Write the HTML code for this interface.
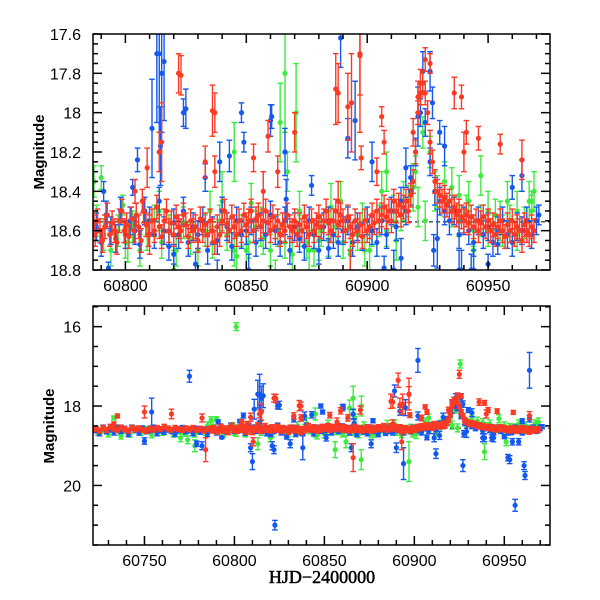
<!DOCTYPE html>
<html><head><meta charset="utf-8"><style>
html,body{margin:0;padding:0;background:#fff;width:600px;height:600px;overflow:hidden;}
svg{display:block;}
text{font-family:"Liberation Sans",sans-serif;}
</style></head><body>
<svg id="chart" width="600" height="600" viewBox="0 0 600 600">
<defs>
<clipPath id="clipTop"><rect x="93" y="34" width="457" height="236"/></clipPath>
<clipPath id="clipBot"><rect x="93" y="306" width="457" height="239"/></clipPath>
</defs>
<g id="topPlot" clip-path="url(#clipTop)"></g>
<g id="botPlot" clip-path="url(#clipBot)"></g>
<g id="axes"></g>
<text x="0" y="0" transform="translate(44,152) rotate(-90)" text-anchor="middle" font-size="15" font-weight="bold">Magnitude</text>
<text x="0" y="0" transform="translate(54,426) rotate(-90)" text-anchor="middle" font-size="15" font-weight="bold">Magnitude</text>
<text x="322" y="583" text-anchor="middle" font-size="18" stroke="#000" stroke-width="0.5" style="font-family:'Liberation Serif',serif">HJD−2400000</text>
</svg>
<script>
// ---- data: [day, magnitude] pairs ----
const redBase = [[60723,18.58],[60725,18.62],[60727,18.55],[60729,18.6],[60731,18.52],[60733,18.57],[60735,18.6],[60737,18.54],[60739,18.58],[60741,18.62],[60743,18.55],[60745,18.59],[60747,18.56],[60749,18.6],[60751,18.63],[60753,18.57],[60755,18.6],[60757,18.55],[60759,18.58],[60761,18.52],[60763,18.57],[60765,18.6],[60767,18.55],[60769,18.58],[60771,18.6],[60773,18.56],[60775,18.59],[60777,18.55],[60779,18.6],[60781,18.57],[60783,18.62],[60785,18.58],
[60786.5,18.57],[60787.5,18.62],[60788.5,18.55],[60789.5,18.6],[60790.5,18.65],[60791.5,18.58],[60792.5,18.52],[60793.5,18.62],[60794.5,18.56],[60795.5,18.6],[60796.5,18.66],[60797.5,18.55],[60798.5,18.5],[60799.5,18.6],[60800.5,18.57],[60801.5,18.63],[60802.5,18.54],[60803.5,18.6],[60804.5,18.52],[60805.5,18.58],[60806.5,18.65],[60807.5,18.5],[60808.5,18.57],[60809.5,18.62],[60811,18.55],[60812,18.6],[60813,18.48],[60814,18.58],[60815,18.63],[60816,18.55],[60817,18.5],[60818,18.6],[60819,18.56],[60820,18.62],[60821,18.53],[60822,18.58],[60823,18.6],[60824,18.52],[60825,18.57],[60826,18.63],[60827,18.55],[60828,18.6],[60829,18.58],[60830,18.65],[60831,18.54],[60832,18.6],[60833,18.57],[60834,18.62],[60835,18.55],[60836,18.6],[60837,18.66],[60838,18.58],[60839,18.62],[60840,18.55],[60841,18.5],[60842,18.57],[60843,18.6],[60844,18.53],[60845,18.58],[60846,18.62],[60847,18.55],[60848,18.6],[60849,18.52],[60850,18.57],[60851,18.55],[60852,18.5],[60853,18.6],[60854,18.54],[60855,18.52],[60856,18.58],[60857,18.55],[60858,18.5],[60859,18.56],[60860,18.6],[60861,18.53],[60862,18.58],[60863,18.55],[60864,18.62],[60865,18.57],[60866,18.6],[60867,18.52],[60868,18.58],[60869,18.6],[60870,18.55],[60871,18.62],[60872,18.57],[60873,18.6],[60874,18.53],[60875,18.58],[60876,18.62],[60877,18.55],[60878,18.6],[60879,18.57],[60880,18.53],[60881,18.58],[60882,18.55],[60883,18.5],[60884,18.56],[60885,18.6],[60886,18.55],[60887,18.5],[60888,18.57],[60889,18.52],[60890,18.55],[60891,18.6],[60892,18.53],[60893,18.58],[60894,18.62],[60895,18.55],[60896,18.6],[60897,18.57],[60898,18.63],[60899,18.55],[60900,18.6],[60901,18.58],[60902,18.52],[60903,18.56],[60904,18.5],[60905,18.55],[60906,18.52],[60907,18.48],[60908,18.53],[60909,18.5],[60910,18.55],[60911,18.45],[60912,18.5],[60913,18.47],[60914,18.52],[60915,18.48],[60916,18.45],[60917,18.5],[60918,18.42],[60919,18.35],[60920,18.2],[60921,18.0],[60922,17.9],[60923,17.85],[60924,17.9],[60925,18.0],[60926,18.15],[60927,18.25],[60928,18.35],[60929,18.4],[60930,18.42],[60931,18.45],[60932,18.43],[60933,18.47],[60934,18.45],[60935,18.5],[60936,18.48],[60937,18.52],[60938,18.5],[60939,18.53],[60940,18.55],[60941,18.52],[60942,18.56],[60943,18.53],[60944,18.58],[60945,18.55],[60946,18.6],[60947,18.56],[60948,18.53],[60949,18.58],[60950,18.55],[60951,18.6],[60952,18.57],[60953,18.62],[60954,18.58],[60955,18.55],[60956,18.6],[60957,18.63],[60958,18.57],[60959,18.6],[60960,18.55],[60961,18.62],[60962,18.58],[60963,18.6],[60964,18.65],[60965,18.57],[60966,18.6],[60967,18.62],[60968,18.58],[60969,18.6]];
const redErrBase = 0.06;
// [day, mag, err]
const redExtra = [[60787,18.56,0.04],[60804,18.4,0.06],[60807,18.45,0.06],[60809,18.28,0.1],[60810,18.62,0.1],[60815,18.15,0.2],[60823,17.81,0.1],[60833,18.25,0.08],[60836,17.99,0.13],[60837,18.3,0.08],[60853,18.23,0.07],[60859,18.12,0.08],[60863,18.3,0.08],[60870,18.1,0.1],[60887,17.88,0.18],[60888,18.45,0.1],[60892,17.97,0.17],[60897,17.71,0.2],[60897.5,18.23,0.06],[60904,18.3,0.07],[60906,18.02,0.05],[60907,18.15,0.06],[60919,18.1,0.07],[60921,17.92,0.08],[60922,17.85,0.07],[60924,17.73,0.06],[60926,17.75,0.05],[60939,17.92,0.06],[60941,18.1,0.06],[60946,18.13,0.06],[60955,18.16,0.05],[60964,18.24,0.1],
[60733,18.45,0.05],[60735,18.25,0.05],[60750,18.15,0.15],[60765,18.2,0.12],[60782,18.3,0.1],[60784,19.1,0.3],[60810.4,18.9,0.1],[60814,18.2,0.1],[60822,17.8,0.1],[60837,18.0,0.1],[60857,18.4,0.1],[60866,19.3,0.35],[60888,17.9,0.15],[60891,17.35,0.18],[60893,18.9,0.2],[60893.5,17.95,0.25],[60897,17.7,0.4],[60925,17.2,0.1],[60936,17.9,0.08],[60940,18.2,0.1]];
const blueBase = [[60723,18.6],[60725,18.68],[60727,18.55],[60729,18.63],[60731,18.58],[60733,18.66],[60735,18.55],[60737,18.62],[60739,18.58],[60741,18.7],[60743,18.55],[60745,18.6],[60747,18.66],[60749,18.57],[60751,18.63],[60753,18.6],[60755,18.55],[60757,18.68],[60759,18.6],[60761,18.64],[60763,18.58],[60765,18.62],[60767,18.7],[60769,18.6],[60771,18.56],[60773,18.63],[60775,18.6],[60777,18.68],[60779,18.58],[60781,18.64],[60783,18.6],[60785,18.7],
[60788,18.58],[60790,18.66],[60792,18.52],[60794,18.6],[60796,18.64],[60798,18.5],[60800,18.62],[60802,18.55],[60804,18.6],[60806,18.67],[60808,18.5],[60810,18.55],[60812,18.62],[60814,18.45],[60816,18.6],[60818,18.68],[60820,18.56],[60822,18.62],[60824,18.5],[60826,18.66],[60828,18.58],[60830,18.62],[60832,18.55],[60834,18.7],[60836,18.6],[60838,18.65],[60840,18.5],[60842,18.58],[60844,18.68],[60846,18.55],[60848,18.62],[60850,18.6],[60852,18.55],[60854,18.66],[60856,18.58],[60858,18.62],[60860,18.52],[60862,18.6],[60864,18.66],[60866,18.55],[60868,18.7],[60870,18.58],[60872,18.64],[60874,18.68],[60876,18.55],[60878,18.62],[60880,18.7],[60882,18.58],[60884,18.55],[60886,18.62],[60888,18.66],[60890,18.6],[60892,18.55],[60894,18.66],[60896,18.58],[60898,18.63],[60900,18.55],[60902,18.6],[60904,18.66],[60906,18.55],[60908,18.62],[60910,18.5],[60912,18.58],[60914,18.45],[60916,18.5],[60918,18.4],[60920,18.2],[60922,18.0],[60924,18.05],[60926,18.25],[60928,18.4],[60930,18.45],[60932,18.5],[60934,18.55],[60936,18.5],[60938,18.62],[60940,18.55],[60942,18.6],[60944,18.66],[60946,18.55],[60948,18.62],[60950,18.58],[60952,18.66],[60954,18.6],[60956,18.55],[60958,18.62],[60960,18.66],[60962,18.58],[60964,18.6],[60966,18.55],[60968,18.62],[60970,18.55]];
const blueErrBase = 0.07;
const blueExtra = [[60793,18.79,0.03],[60791,18.4,0.05],[60805,18.24,0.06],[60803,18.38,0.04],[60811,18.08,0.25],[60814,17.7,0.5],[60814.5,18.17,0.2],[60816,17.74,0.3],[60825,17.98,0.1],[60820,18.72,0.05],[60829,18.77,0.06],[60833,18.33,0.07],[60839,18.25,0.1],[60843,18.22,0.08],[60849,18.15,0.05],[60851,18.8,0.08],[60860,18.04,0.08],[60860.5,18.02,0.06],[60866,18.2,0.12],[60866.5,18.44,0.1],[60877,18.37,0.05],[60884,18.69,0.05],[60889,17.62,0.15],[60892,18.13,0.1],[60895,18.04,0.2],[60902,18.25,0.1],[60907,18.79,0.06],[60914,18.74,0.1],[60916,18.28,0.1],[60921,18.02,0.15],[60923,17.79,0.1],[60926,17.79,0.1],[60927,17.95,0.08],[60932,18.17,0.1],[60929,18.64,0.15],[60939,18.8,0.1],[60944,18.8,0.1],[60950,18.77,0.05],[60954,18.67,0.05],[60960,18.38,0.06],[60964,18.32,0.08],[60971,18.52,0.05],[60918,18.33,0.06],
[60775,17.25,0.15],[60754,18.15,0.35],[60750,18.88,0.08],[60779,18.95,0.07],[60782,19.0,0.1],[60809,19.05,0.1],[60810,19.4,0.2],[60813,17.7,0.35],[60815,17.8,0.3],[60821,19.0,0.1],[60822,19.1,0.1],[60822.5,21.0,0.12],[60824,18.0,0.07],[60831,18.95,0.1],[60838,19.05,0.3],[60848,18.0,0.05],[60865,19.05,0.1],[60876,18.95,0.1],[60890,19.05,0.12],[60894,19.45,0.4],[60902,16.85,0.3],[60912,19.2,0.12],[60911,18.8,0.1],[60927,19.5,0.15],[60927.5,18.7,0.08],[60930,18.1,0.06],[60938,18.8,0.1],[60943,18.8,0.08],[60952,19.3,0.08],[60953,19.35,0.1],[60954.5,18.9,0.08],[60956,20.5,0.15],[60958,18.9,0.08],[60961,19.5,0.1],[60961.5,19.75,0.1],[60964,17.1,0.45]];
const greenBase = [[60724,18.65],[60727,18.6],[60730,18.7],[60733,18.55],[60736,18.65],[60739,18.6],[60742,18.7],[60745,18.58],[60748,18.66],[60751,18.6],[60754,18.72],[60757,18.6],[60760,18.66],[60763,18.58],[60766,18.7],[60769,18.62],[60772,18.68],[60775,18.6],[60778,18.7],[60781,18.6],[60784,18.66],
[60788,18.55],[60791,18.62],[60794,18.7],[60797,18.6],[60800,18.66],[60803,18.58],[60806,18.7],[60809,18.62],[60812,18.55],[60815,18.66],[60818,18.6],[60821,18.7],[60824,18.56],[60827,18.64],[60830,18.7],[60833,18.6],[60836,18.66],[60839,18.55],[60842,18.62],[60845,18.7],[60848,18.6],[60851,18.66],[60854,18.58],[60857,18.64],[60860,18.7],[60863,18.6],[60866,18.66],[60869,18.72],[60872,18.6],[60875,18.66],[60878,18.7],[60881,18.6],[60884,18.65],[60887,18.58],[60890,18.66],[60893,18.72],[60896,18.62],[60899,18.7],[60902,18.6],[60905,18.55],[60908,18.6],[60911,18.5],[60914,18.52],[60917,18.45],[60920,18.3],[60923,18.1],[60926,18.2],[60929,18.4],[60932,18.45],[60935,18.5],[60938,18.55],[60941,18.5],[60944,18.6],[60947,18.55],[60950,18.6],[60953,18.52],[60956,18.6],[60959,18.55],[60962,18.62],[60965,18.56],[60968,18.5]];
const greenErrBase = 0.08;
const greenExtra = [[60787,18.35,0.08],[60790,18.33,0.06],[60799,18.47,0.05],[60801,18.66,0.1],[60814,18.5,0.1],[60820,18.8,0.1],[60835,18.5,0.1],[60840,18.45,0.15],[60845,18.2,0.15],[60846,18.73,0.1],[60850,18.7,0.1],[60852,18.46,0.1],[60856,18.58,0.1],[60864,18.05,0.2],[60867,18.3,0.1],[60870.6,18.0,0.25],[60872,18.5,0.1],[60876,18.7,0.1],[60880,18.65,0.1],[60885,18.48,0.12],[60889,18.45,0.1],[60893,18.7,0.1],[60898,18.56,0.1],[60901,18.7,0.12],[60906,18.4,0.1],[60908,18.3,0.1],[60912,18.65,0.1],[60915,18.45,0.1],[60919,18.38,0.12],[60921,18.48,0.1],[60924,18.55,0.1],[60928,18.4,0.1],[60932,18.35,0.1],[60935,18.38,0.1],[60938,18.42,0.1],[60942,18.45,0.1],[60944,18.7,0.1],[60947,18.32,0.1],[60950,18.5,0.1],[60955,18.55,0.1],[60958,18.45,0.1],[60962,18.5,0.1],[60967,18.45,0.1],[60969,18.4,0.1],
[60801,16.0,0.1],[60925.5,16.94,0.1],[60737,18.75,0.08],[60733,18.3,0.05],[60770,18.8,0.1],[60774,18.85,0.1],[60778,19.0,0.15],[60785,18.5,0.1],[60813,18.95,0.15],[60856,19.1,0.2],[60862,18.9,0.15],[60866,17.8,0.3],[60870.5,19.35,0.25],[60897,19.4,0.5],[60939,19.15,0.2],[60951,18.9,0.1],[60968,18.45,0.05]];

// tick labels
const topYTicks = [17.6,17.8,18,18.2,18.4,18.6,18.8];
const topXTicks = [60800,60850,60900,60950];
const botYTicks = [16,18,20];
const botXTicks = [60750,60800,60850,60900,60950];
const refMag = 18.555;

const NS = "http://www.w3.org/2000/svg";
const L = 93, R = 550;
const topP = {x0:60786.6, x1:60975.6, y0:17.6, y1:18.8, t:34, b:270};
const botP = {x0:60721.4, x1:60975.4, y0:15.48, y1:21.5, t:306, b:545};
function sx(p,d){return L + (d-p.x0)/(p.x1-p.x0)*(R-L);}
function sy(p,m){return p.t + (m-p.y0)/(p.y1-p.y0)*(p.b-p.t);}
function el(tag, attrs, parent){const e=document.createElementNS(NS,tag);for(const k in attrs)e.setAttribute(k,attrs[k]);parent.appendChild(e);return e;}

function drawSeries(p, g, pts, errDefault, color, name, rad, cap){
  const sg = el('g',{},g);
  
  
  pts.forEach(pt=>{
    const err = pt.length>2 ? pt[2] : errDefault;
    const x = sx(p,pt[0]), y = sy(p,pt[1]);
    let y1 = sy(p,pt[1]-err), y2 = sy(p,pt[1]+err);
    if (x < L-3 || x > R+3) return;
    if (y2 < p.t || y1 > p.b) return;
    const showCap1 = y1 >= p.t, showCap2 = y2 <= p.b;
    y1 = Math.max(y1, p.t); y2 = Math.min(y2, p.b);
    const pg = el('g',{stroke:color,'stroke-width':1.4},sg);
    
    
    el('line',{x1:x,x2:x,y1:y1,y2:y2},pg);
    if (showCap1) el('line',{x1:x-cap,x2:x+cap,y1:y1,y2:y1},pg);
    if (showCap2) el('line',{x1:x-cap,x2:x+cap,y1:y2,y2:y2},pg);
    if (y >= p.t-3 && y <= p.b+3) el('circle',{cx:x,cy:y,r:rad,fill:color,stroke:'none'},pg);
  });
}
const GREEN='#3fea3f', BLUE='#1558f0', RED='#fb3a26';
[[topP,document.getElementById('topPlot'),2.6,2.8],[botP,document.getElementById('botPlot'),2.6,2.8]].forEach(([p,g,rad,cap])=>{
  el('line',{x1:L,x2:R,y1:sy(p,refMag),y2:sy(p,refMag),stroke:'#000','stroke-width':1,'stroke-dasharray':'4,3'},g);
  drawSeries(p,g,greenBase,greenErrBase,GREEN,'green-series-base',rad,cap);
  drawSeries(p,g,greenExtra,greenErrBase,GREEN,'green-series-extra',rad,cap);
  drawSeries(p,g,blueBase,blueErrBase,BLUE,'blue-series-base',rad,cap);
  drawSeries(p,g,blueExtra,blueErrBase,BLUE,'blue-series-extra',rad,cap);
  drawSeries(p,g,redBase,redErrBase,RED,'red-series-base',rad,cap);
  drawSeries(p,g,redExtra,redErrBase,RED,'red-series-extra',rad,cap);
});

// axes
const ax = document.getElementById('axes');
function frame(p, yTicks, yMinor, yMajorStep, xLabels, labelY, name){
  const fg = el('g',{stroke:'#000','stroke-width':1.5,fill:'none'},ax);
  
  
  el('rect',{x:L,y:p.t,width:R-L,height:p.b-p.t},fg);
  for(let d=Math.ceil(p.x0/10)*10; d<=p.x1; d+=10){
    const x=sx(p,d), len = d%50===0?9:5;
    el('line',{x1:x,x2:x,y1:p.b,y2:p.b-len},fg);
    el('line',{x1:x,x2:x,y1:p.t,y2:p.t+len},fg);
  }
  for(let i=Math.ceil(p.y0/yMinor-1e-6); i*yMinor<=p.y1+1e-6; i++){
    const m=i*yMinor, y=sy(p,m);
    const r = m/yMajorStep;
    const major = Math.abs(r-Math.round(r))<1e-6;
    const len = major?9:5;
    el('line',{x1:L,x2:L+len,y1:y,y2:y},fg);
    el('line',{x1:R,x2:R-len,y1:y,y2:y},fg);
  }
  yTicks.forEach(t=>{
    const tx = el('text',{x:L-12,y:sy(p,t)+6,'text-anchor':'end','font-size':16},ax);
    tx.textContent = String(t);
    
    
  });
  xLabels.forEach(t=>{
    const tx = el('text',{x:sx(p,t),y:labelY,'text-anchor':'middle','font-size':16},ax);
    tx.textContent = String(t);
    
    
  });
}
frame(topP, topYTicks, 0.05, 0.2, topXTicks, 291, 'top-panel-frame');
frame(botP, botYTicks, 0.5, 2, botXTicks, 566, 'bottom-panel-frame');
</script>
</body></html>
